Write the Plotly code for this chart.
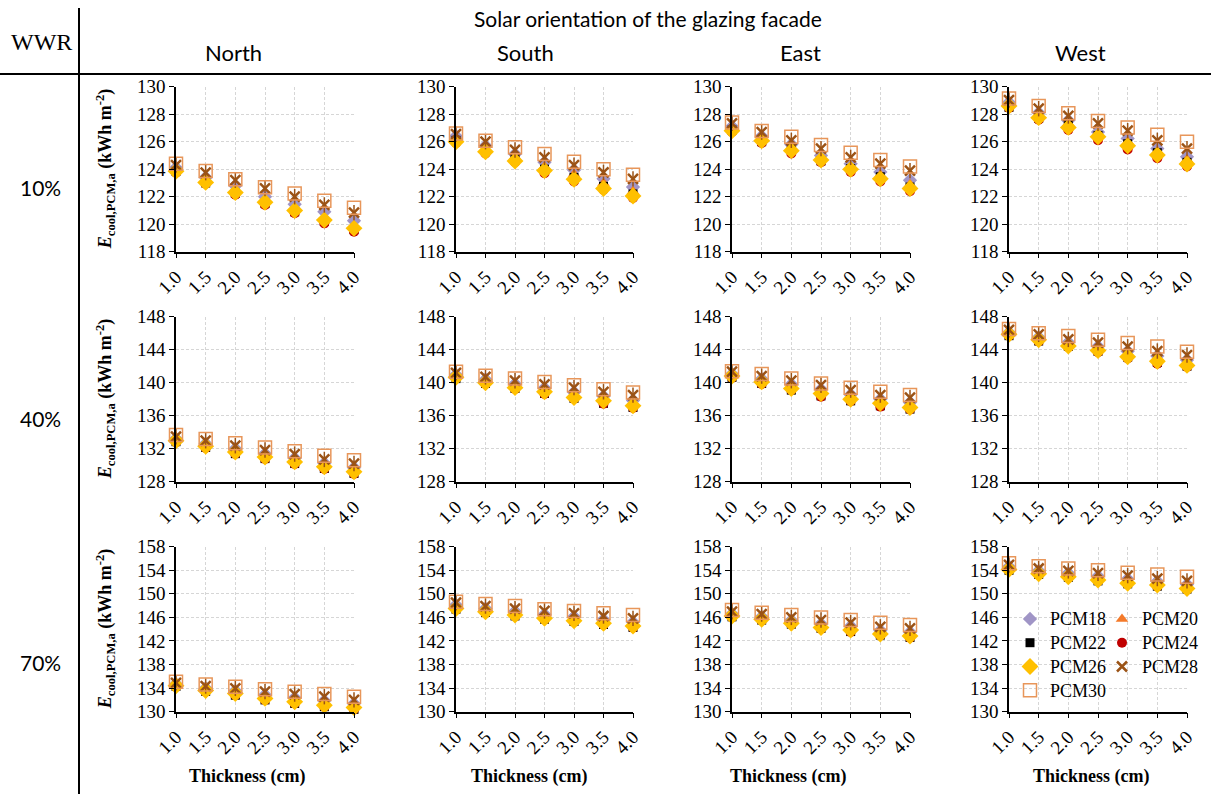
import plotly.graph_objects as go

# Thickness of the PCM layer (cm)
thickness = [1.0, 1.5, 2.0, 2.5, 3.0, 3.5, 4.0]

series_names = ["PCM18", "PCM20", "PCM22", "PCM24", "PCM26", "PCM28", "PCM30"]
orientations = ["North", "South", "East", "West"]
wwr_labels = ["10%", "40%", "70%"]

# Annual cooling energy (kWh m-2); one row per series in series_names order
north_10 = [
    [124.10, 123.40, 122.80, 122.00, 121.45, 120.90, 120.25],
    [124.00, 123.20, 122.50, 121.75, 121.15, 120.50, 119.90],
    [123.85, 123.00, 122.25, 121.50, 120.90, 120.20, 119.60],
    [123.75, 122.95, 122.15, 121.40, 120.80, 120.06, 119.45],
    [123.85, 123.04, 122.30, 121.60, 121.00, 120.30, 119.70],
    [124.30, 123.75, 123.20, 122.60, 122.00, 121.40, 120.84],
    [124.40, 123.87, 123.26, 122.68, 122.24, 121.70, 121.20],
]
south_10 = [
    [126.40, 125.70, 125.10, 124.50, 123.94, 123.30, 122.70],
    [126.25, 125.50, 124.90, 124.20, 123.65, 123.00, 122.40],
    [126.10, 125.30, 124.70, 124.00, 123.40, 122.75, 122.20],
    [125.90, 125.15, 124.50, 123.70, 123.10, 122.50, 121.90],
    [126.00, 125.27, 124.60, 123.90, 123.26, 122.60, 122.05],
    [126.55, 126.00, 125.40, 124.86, 124.30, 123.77, 123.30],
    [126.60, 126.07, 125.60, 125.10, 124.55, 124.00, 123.60],
]
east_10 = [
    [127.10, 126.40, 125.80, 125.00, 124.40, 123.80, 123.20],
    [127.00, 126.20, 125.60, 124.85, 124.20, 123.60, 122.90],
    [126.85, 126.00, 125.45, 124.60, 124.05, 123.45, 122.70],
    [126.70, 125.90, 125.15, 124.50, 123.80, 123.10, 122.40],
    [126.80, 126.07, 125.35, 124.67, 123.99, 123.30, 122.60],
    [127.33, 126.70, 126.10, 125.50, 124.86, 124.40, 123.90],
    [127.40, 126.78, 126.36, 125.76, 125.20, 124.67, 124.20],
]
west_10 = [
    [128.85, 128.10, 127.55, 126.70, 126.24, 125.50, 124.90],
    [128.70, 127.90, 127.35, 126.60, 126.00, 125.30, 124.70],
    [128.50, 127.70, 127.20, 126.45, 125.85, 125.20, 124.50],
    [128.45, 127.60, 126.85, 126.10, 125.44, 124.80, 124.20],
    [128.60, 127.75, 127.04, 126.36, 125.70, 125.03, 124.38],
    [129.03, 128.40, 127.87, 127.33, 126.80, 126.10, 125.50],
    [129.15, 128.60, 128.06, 127.50, 127.04, 126.50, 126.00],
]
north_40 = [
    [133.20, 132.60, 132.00, 131.40, 130.85, 130.25, 129.70],
    [133.05, 132.45, 131.80, 131.20, 130.60, 130.00, 129.45],
    [132.85, 132.15, 131.40, 130.80, 130.20, 129.60, 129.00],
    [132.80, 132.10, 131.40, 130.75, 130.15, 129.55, 128.95],
    [132.97, 132.30, 131.60, 131.00, 130.40, 129.80, 129.20],
    [133.45, 132.97, 132.36, 131.84, 131.35, 130.70, 130.20],
    [133.66, 133.17, 132.65, 132.16, 131.70, 131.15, 130.60],
]
south_40 = [
    [140.95, 140.40, 139.85, 139.35, 138.85, 138.35, 137.85],
    [140.80, 140.20, 139.60, 139.10, 138.50, 138.00, 137.50],
    [140.50, 139.90, 139.30, 138.70, 138.10, 137.50, 137.00],
    [140.50, 139.85, 139.25, 138.65, 138.05, 137.45, 136.95],
    [140.65, 140.00, 139.40, 138.90, 138.20, 137.80, 137.20],
    [141.20, 140.70, 140.24, 139.80, 139.40, 138.90, 138.50],
    [141.33, 140.85, 140.50, 140.10, 139.70, 139.20, 138.80],
]
east_40 = [
    [141.05, 140.45, 139.80, 139.20, 138.55, 138.00, 137.60],
    [140.90, 140.25, 139.55, 138.95, 138.30, 137.75, 137.30],
    [140.65, 139.90, 139.10, 138.40, 137.80, 137.20, 136.80],
    [140.60, 139.85, 139.10, 138.30, 137.75, 137.10, 136.75],
    [140.80, 140.10, 139.30, 138.70, 138.00, 137.50, 137.00],
    [141.33, 140.80, 140.24, 139.70, 139.10, 138.50, 138.20],
    [141.40, 141.05, 140.50, 139.90, 139.40, 138.90, 138.50],
]
west_40 = [
    [146.10, 145.50, 144.90, 144.40, 143.80, 143.25, 142.75],
    [146.00, 145.35, 144.70, 144.15, 143.50, 142.90, 142.40],
    [145.70, 145.05, 144.40, 143.80, 143.10, 142.45, 142.00],
    [145.70, 145.00, 144.30, 143.70, 142.95, 142.30, 141.90],
    [145.86, 145.20, 144.45, 143.90, 143.15, 142.60, 142.10],
    [146.40, 145.86, 145.25, 144.85, 144.36, 143.84, 143.35],
    [146.50, 146.00, 145.66, 145.20, 144.80, 144.40, 143.76],
]
north_70 = [
    [134.65, 134.00, 133.55, 132.85, 132.35, 131.85, 131.35],
    [134.50, 133.80, 133.30, 132.55, 132.00, 131.45, 131.00],
    [134.30, 133.45, 132.80, 132.00, 131.40, 130.85, 130.40],
    [134.25, 133.40, 132.80, 132.00, 131.40, 130.85, 130.40],
    [134.40, 133.60, 133.10, 132.26, 131.70, 131.10, 130.70],
    [134.90, 134.36, 133.96, 133.40, 133.00, 132.55, 132.00],
    [135.10, 134.60, 134.25, 133.80, 133.40, 133.00, 132.55],
]
south_70 = [
    [148.10, 147.50, 147.00, 146.50, 146.10, 145.60, 145.20],
    [147.80, 147.20, 146.70, 146.15, 145.75, 145.30, 144.85],
    [147.40, 146.85, 146.25, 145.70, 145.30, 144.80, 144.30],
    [147.35, 146.80, 146.20, 145.65, 145.25, 144.75, 144.25],
    [147.50, 146.97, 146.40, 145.84, 145.44, 145.00, 144.54],
    [148.50, 147.93, 147.50, 147.10, 146.70, 146.24, 145.84],
    [148.67, 148.27, 147.93, 147.40, 147.10, 146.70, 146.40],
]
east_70 = [
    [146.60, 146.10, 145.50, 144.90, 144.50, 143.80, 143.50],
    [146.40, 145.85, 145.25, 144.60, 144.15, 143.45, 143.15],
    [146.10, 145.55, 144.85, 144.15, 143.60, 143.00, 142.60],
    [146.05, 145.50, 144.80, 144.10, 143.55, 142.95, 142.55],
    [146.24, 145.67, 145.00, 144.30, 143.86, 143.18, 142.84],
    [146.97, 146.57, 146.00, 145.56, 145.10, 144.40, 144.14],
    [147.25, 146.80, 146.40, 146.00, 145.56, 145.10, 144.70],
]
west_70 = [
    [154.60, 153.90, 153.50, 153.00, 152.50, 152.10, 151.60],
    [154.40, 153.70, 153.20, 152.70, 152.15, 151.80, 151.25],
    [154.00, 153.30, 152.80, 152.20, 151.70, 151.30, 150.80],
    [154.00, 153.25, 152.75, 152.15, 151.65, 151.25, 150.75],
    [154.15, 153.40, 152.90, 152.35, 151.80, 151.50, 150.90],
    [154.90, 154.30, 153.90, 153.50, 153.10, 152.60, 152.20],
    [155.20, 154.70, 154.30, 154.00, 153.60, 153.30, 152.90],
]

# Y-axis ranges and tick steps per WWR row
y_ranges = [(118, 130, 2), (128, 148, 4), (130, 158, 4)]

panels = [
    [north_10, south_10, east_10, west_10],
    [north_40, south_40, east_40, west_40],
    [north_70, south_70, east_70, west_70],
]

# ---- layout geometry (pixels) ----
W, H = 1211, 794
col_px = [(176, 354), (456, 633), (732, 910), (1009, 1187)]
row_px = [(86.7, 251.7), (316.7, 481.7), (546.7, 711.7)]


def px(x):
    return x / W


def py(y):
    return 1 - y / H


styles = {
    "PCM18": dict(symbol="diamond", size=11, color="#a095c6"),
    "PCM20": dict(symbol="triangle-up", size=11, color="#f47a2a"),
    "PCM22": dict(symbol="square", size=9, color="#000000"),
    "PCM24": dict(symbol="circle", size=10, color="#c00000"),
    "PCM26": dict(symbol="diamond", size=13, color="#ffc000"),
    "PCM28": dict(symbol="x-thin-open", size=10, color="#9b5316"),
    "PCM30": dict(symbol="square-open", size=13, color="#e8965a"),
}
legend_of = {"PCM18": "legend", "PCM22": "legend", "PCM26": "legend", "PCM30": "legend",
             "PCM20": "legend2", "PCM24": "legend2", "PCM28": "legend2"}

serif = "Liberation Serif, Times New Roman, serif"
sans = "Lato, Open Sans, sans-serif"
grid_color = "#d6d6d6"
grid_dash = "3px,2px"

fig = go.Figure()
layout = {}

for r in range(3):
    for c in range(4):
        n = r * 4 + 1 + c
        xs = "" if n == 1 else str(n)
        data = panels[r][c]
        last = (r == 2 and c == 3)
        for k, name in enumerate(series_names):
            st = styles[name]
            if st["symbol"].endswith("-open"):
                marker = dict(symbol=st["symbol"], size=st["size"], color=st["color"],
                              line=dict(color=st["color"], width=2.5 if name == "PCM28" else 1.5))
            else:
                marker = dict(symbol=st["symbol"], size=st["size"], color=st["color"],
                              line=dict(width=0))
            fig.add_trace(go.Scatter(
                x=thickness, y=data[k], mode="markers",
                name="<span style='font-size:18px'>%s</span>" % name, marker=marker,
                xaxis="x" + xs, yaxis="y" + xs, cliponaxis=False,
                legend=legend_of[name], showlegend=last, legendgroup=name,
            ))
            if name == "PCM28":
                # vertical stroke completing the star marker
                fig.add_trace(go.Scatter(
                    x=thickness, y=data[k], mode="markers", name=name,
                    marker=dict(symbol="line-ns-open", size=11, color=st["color"],
                                line=dict(color=st["color"], width=1.5)),
                    xaxis="x" + xs, yaxis="y" + xs, cliponaxis=False,
                    showlegend=False, legendgroup=name,
                ))
        x0, x1 = col_px[c]
        y0, y1 = row_px[r]
        lo, hi, step = y_ranges[r]
        layout["xaxis" + xs] = dict(
            domain=[px(x0), px(x1)], anchor="y" + xs, range=[1.0, 4.0],
            tickmode="linear", tick0=1.0, dtick=0.5, tickformat=".1f", tickangle=-45,
            showline=True, linecolor="black", linewidth=1.5, automargin=False,
            ticks="outside", ticklen=5, tickcolor="black", tickwidth=1,
            showgrid=True, gridcolor=grid_color, gridwidth=1, griddash=grid_dash,
            zeroline=False, tickfont=dict(family=serif, size=19, color="black"),
        )
        layout["yaxis" + xs] = dict(
            domain=[py(y1), py(y0)], anchor="x" + xs, range=[lo, hi],
            tickmode="linear", tick0=lo, dtick=step,
            showline=True, linecolor="black", linewidth=1.5, automargin=False,
            ticks="outside", ticklen=5, tickcolor="black", tickwidth=1,
            showgrid=True, gridcolor=grid_color, gridwidth=1, griddash=grid_dash,
            zeroline=False, tickfont=dict(family=serif, size=19, color="black"),
        )


def label(text, x, y, family, size, angle=0):
    return dict(text=text, x=px(x), y=py(y), xref="paper", yref="paper",
                xanchor="center", yanchor="middle", showarrow=False, textangle=angle,
                font=dict(family=family, size=size, color="black"))


annotations = [label("Solar orientation of the glazing facade", 648, 18, sans, 21),
               label("WWR", 41, 42, serif, 24)]
for name, xc in zip(orientations, [233, 525, 800, 1080]):
    annotations.append(label(name, xc, 52, sans, 22))
for lab, yc in zip(wwr_labels, [188, 418, 662]):
    annotations.append(label(lab, 40, yc, sans, 21))
# Y-axis titles (first column)
for r in range(3):
    yc = (row_px[r][0] + row_px[r][1]) / 2
    annotations.append(label(
        "<b><i>E</i><sub>cool,PCM,a</sub> (kWh m<sup>-2</sup>)</b>", 105, yc, serif, 18, -90))
# X-axis titles (bottom row)
for xc in [247, 529, 788, 1091]:
    annotations.append(label("<b>Thickness (cm)</b>", xc, 776, serif, 18))

shapes = [
    dict(type="line", xref="paper", yref="paper", x0=0, x1=1, y0=py(74), y1=py(74),
         line=dict(color="black", width=2)),
    dict(type="line", xref="paper", yref="paper", x0=px(79), x1=px(79), y0=py(8), y1=0,
         line=dict(color="black", width=2)),
]

legend_common = dict(bgcolor="rgba(0,0,0,0)", borderwidth=0,
                     font=dict(family=serif, size=16, color="black"),
                     xanchor="left", yanchor="top", tracegroupgap=0,
                     itemsizing="trace")

fig.update_layout(
    width=W, height=H, margin=dict(l=0, r=0, t=0, b=0, autoexpand=False),
    paper_bgcolor="white", plot_bgcolor="white",
    annotations=annotations, shapes=shapes,
    legend=dict(x=px(1010), y=py(602), **legend_common),
    legend2=dict(x=px(1102), y=py(602), **legend_common),
    **layout,
)

fig.write_html("out.html")
